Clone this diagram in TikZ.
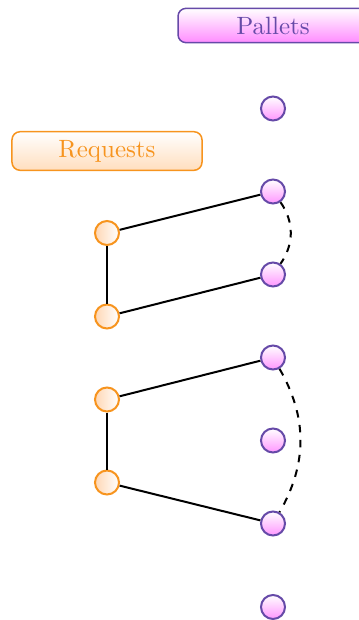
\documentclass[tikz,border=0pt]{standalone}
\usetikzlibrary{shapes.geometric}
\definecolor{purp}{RGB}{102,74,168}
\definecolor{orng}{RGB}{247,148,30}
\definecolor{pinkb}{RGB}{255,140,255}
\definecolor{pinkc}{RGB}{255,150,255}
\definecolor{peach}{RGB}{255,222,190}
\definecolor{peachc}{RGB}{255,215,180}
\begin{document}
\begin{tikzpicture}[x=0.4pt,y=-0.4pt,
  pallethead/.style={draw=purp,line width=0.6pt,rounded corners=3.2pt,top color=white,bottom color=pinkb,text=purp,minimum width=76pt,inner sep=3.33pt},
  reqhead/.style={draw=orng,line width=0.6pt,rounded corners=3.2pt,top color=white,bottom color=peach,text=orng,minimum width=76pt,inner sep=3.33pt},
  pnode/.style={circle,draw=purp,line width=0.8pt,top color=white,bottom color=pinkc,minimum size=9.6pt,inner sep=0pt},
  rnode/.style={circle,draw=orng,line width=0.8pt,left color=peachc,right color=white,minimum size=9.6pt,inner sep=0pt},
  link/.style={line width=0.8pt,black},
  chain/.style={line width=0.8pt,black,dashed}]
\useasboundingbox (0,0) rectangle (359,620);
\node[pallethead] (P) at (273,25.5) {Pallets};
\node[reqhead] (R) at (107,151) {Requests};
\node[pnode] (p1) at (273,108.5) {};
\node[pnode] (p2) at (273,191.5) {};
\node[pnode] (p3) at (273,274.5) {};
\node[pnode] (p4) at (273,357.5) {};
\node[pnode] (p5) at (273,440.5) {};
\node[pnode] (p6) at (273,523.5) {};
\node[pnode] (p7) at (273,607) {};
\node[rnode] (r1) at (107,233) {};
\node[rnode] (r2) at (107,316.5) {};
\node[rnode] (r3) at (107,399.5) {};
\node[rnode] (r4) at (107,482.5) {};
\draw[link] (r1) -- (p2);
\draw[link] (r2) -- (p3);
\draw[link] (r1) -- (r2);
\draw[link] (r3) -- (p4);
\draw[link] (r4) -- (p6);
\draw[link] (r3) -- (r4);
\draw[chain] (p2) to[bend left=35] (p3);
\draw[chain] (p4) to[bend left=30] (p6);
\end{tikzpicture}
\end{document}
